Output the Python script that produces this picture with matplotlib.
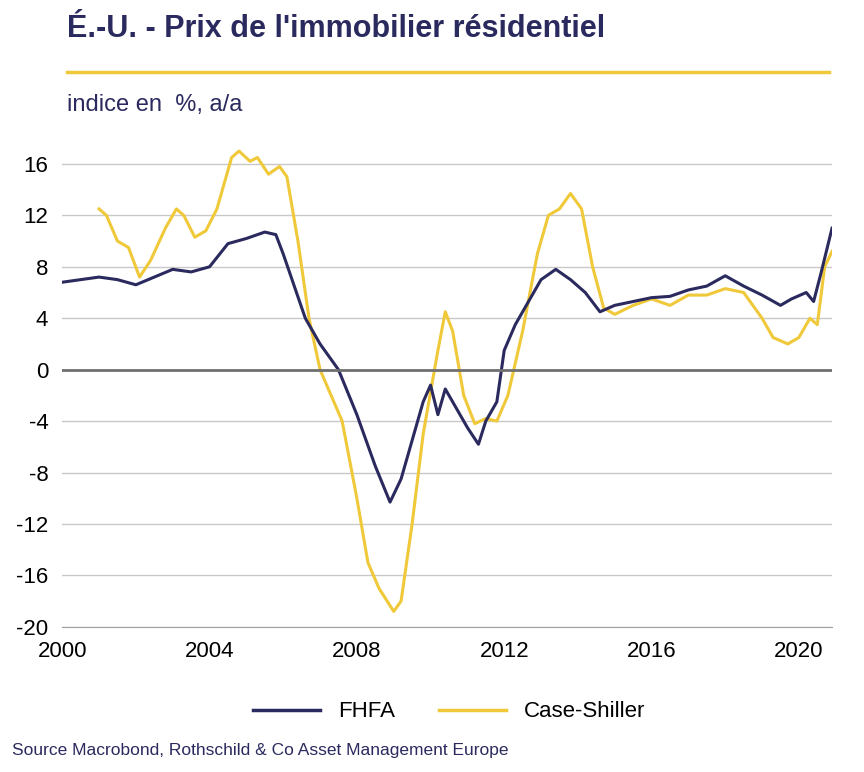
import matplotlib
matplotlib.use("Agg")
import matplotlib.pyplot as plt
from matplotlib.lines import Line2D

plt.rcParams['font.family'] = ['Liberation Sans', 'DejaVu Sans']
plt.rcParams['axes.unicode_minus'] = False

fhfa_x = [2000, 2000.5, 2001, 2001.5, 2002, 2002.5, 2003, 2003.5, 2004, 2004.5, 2005, 2005.5, 2005.8, 2006, 2006.3, 2006.6, 2007, 2007.5, 2008, 2008.5, 2008.9, 2009.2, 2009.5, 2009.8, 2010, 2010.2, 2010.4, 2010.7, 2011, 2011.3, 2011.5, 2011.8, 2012, 2012.3, 2012.7, 2013, 2013.4, 2013.8, 2014.2, 2014.6, 2015, 2015.5, 2016, 2016.5, 2017, 2017.5, 2018, 2018.5, 2019, 2019.5, 2019.8, 2020.2, 2020.4, 2020.6, 2020.9]
fhfa_y = [6.8, 7.0, 7.2, 7.0, 6.6, 7.2, 7.8, 7.6, 8.0, 9.8, 10.2, 10.7, 10.5, 9.0, 6.5, 4.0, 2.0, 0.0, -3.5, -7.5, -10.3, -8.5, -5.5, -2.5, -1.2, -3.5, -1.5, -3.0, -4.5, -5.8, -4.0, -2.5, 1.5, 3.5, 5.5, 7.0, 7.8, 7.0, 6.0, 4.5, 5.0, 5.3, 5.6, 5.7, 6.2, 6.5, 7.3, 6.5, 5.8, 5.0, 5.5, 6.0, 5.3, 7.5, 11.0]

cs_x = [2001, 2001.2, 2001.5, 2001.8, 2002.1, 2002.4, 2002.8, 2003.1, 2003.3, 2003.6, 2003.9, 2004.2, 2004.6, 2004.8, 2005.1, 2005.3, 2005.6, 2005.9, 2006.1, 2006.4, 2006.7, 2007, 2007.3, 2007.6, 2008, 2008.3, 2008.6, 2009, 2009.2, 2009.5, 2009.8, 2010.2, 2010.4, 2010.6, 2010.9, 2011.2, 2011.5, 2011.8, 2012.1, 2012.5, 2012.9, 2013.2, 2013.5, 2013.8, 2014.1, 2014.4, 2014.7, 2015, 2015.5, 2016, 2016.5, 2017, 2017.5, 2018, 2018.5, 2019, 2019.3, 2019.7, 2020, 2020.3, 2020.5, 2020.7, 2020.9]
cs_y = [12.5, 12.0, 10.0, 9.5, 7.2, 8.5, 11.0, 12.5, 12.0, 10.3, 10.8, 12.5, 16.5, 17.0, 16.2, 16.5, 15.2, 15.8, 15.0, 10.0, 4.0, 0.0, -2.0, -4.0, -10.0, -15.0, -17.0, -18.8, -18.0, -12.0, -5.0, 1.5, 4.5, 3.0, -2.0, -4.2, -3.8, -4.0, -2.0, 3.0, 9.0, 12.0, 12.5, 13.7, 12.5, 8.0, 4.8, 4.3, 5.0, 5.5, 5.0, 5.8, 5.8, 6.3, 6.0, 4.0, 2.5, 2.0, 2.5, 4.0, 3.5, 8.0, 9.2]

yticks = [16, 12, 8, 4, 0, -4, -8, -12, -16, -20]
xticks = [2000, 2004, 2008, 2012, 2016, 2020]

navy = '#2b2a5e'
gold = '#f0c93a'

fig = plt.figure(figsize=(8.64, 7.72), dpi=100)
ax = fig.add_axes([0.072, 0.188, 0.891, 0.633])
ax.plot(cs_x, cs_y, color=gold, lw=2.2)
ax.plot(fhfa_x, fhfa_y, color=navy, lw=2.2)
ax.set_xlim(2000, 2020.9)
ax.set_ylim(-20, 18)
ax.set_yticks(yticks)
ax.set_xticks(xticks)
ax.yaxis.grid(True, color='#c8c8c8', lw=1)
ax.axhline(0, color='#707070', lw=2)
for s in ['top', 'right', 'left']:
    ax.spines[s].set_visible(False)
ax.spines['bottom'].set_color('#a0a0a0')
ax.tick_params(axis='both', length=0, labelsize=16, colors='black', pad=10)
ax.set_axisbelow(True)

fig.text(0.078, 0.962, "É.-U. - Prix de l'immobilier résidentiel", fontsize=22, fontweight='bold', color=navy, va='center')
fig.add_artist(Line2D([0.078, 0.96], [0.907, 0.907], color=gold, lw=2.5, transform=fig.transFigure))
fig.text(0.078, 0.864, "indice en  %, a/a", fontsize=17, color=navy, va='center')

handles = [Line2D([], [], color=navy, lw=2.5), Line2D([], [], color=gold, lw=2.5)]
fig.legend(handles, ['FHFA', 'Case-Shiller'], loc='center', bbox_to_anchor=(0.52, 0.078), ncol=2, frameon=False, fontsize=16, handlelength=3, columnspacing=2)
fig.text(0.014, 0.028, "Source Macrobond, Rothschild & Co Asset Management Europe", fontsize=12.5, color=navy, va='center')

fig.savefig('out.png', dpi=100)
